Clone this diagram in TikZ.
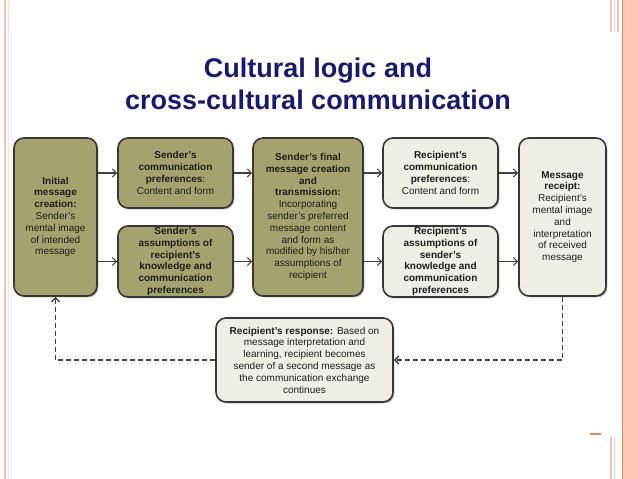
\documentclass[tikz,border=0pt]{standalone}
\usepackage{fontspec}
\setmainfont{Liberation Sans}
\usetikzlibrary{arrows.meta,shadows}
\definecolor{boxolive}{RGB}{164,163,110}
\definecolor{boxlight}{RGB}{238,238,229}
\definecolor{boxline}{RGB}{55,55,55}
\definecolor{arrline}{RGB}{65,65,65}
\definecolor{txtcol}{RGB}{30,30,30}
\definecolor{titlecol}{RGB}{24,26,110}
\definecolor{pinkline}{RGB}{244,196,182}
\definecolor{salmon}{RGB}{252,200,180}
\definecolor{orangeline}{RGB}{232,140,80}
\tikzset{
  box/.style={draw=boxline, line width=1.6pt, rounded corners=10pt, align=center,
    text=txtcol, font=\fontsize{10}{11.8}\selectfont, inner xsep=2pt, inner ysep=0pt,
    drop shadow={shadow xshift=1.4pt, shadow yshift=-1.4pt, fill=black, opacity=0.3}},
  olivebox/.style={box, fill=boxolive},
  lightbox/.style={box, fill=boxlight},
  arr/.style={draw=arrline, line width=1.2pt, -{Straight Barb[length=4pt,width=8pt]}},
  dasharr/.style={arr, line width=1.5pt, dash pattern=on 5pt off 3pt},
  titletext/.style={font=\fontsize{27}{30}\selectfont\bfseries, text=titlecol, anchor=base, inner sep=0pt}
}
\begin{document}
\begin{tikzpicture}[x=1pt,y=-1pt]
\useasboundingbox (0,0) rectangle (638,479);
\fill[white] (0,0) rectangle (638,479);
% slide decoration
\draw[pinkline, line width=2.4pt] (5,0) -- (5,479);
\draw[pinkline!50, line width=0.8pt] (8.5,0) -- (8.5,479);
\draw[pinkline!30, line width=0.8pt] (11.5,32) -- (11.5,479);
\fill[salmon] (622,0) rectangle (638,479);
\draw[orangeline, line width=1pt] (622.5,0) -- (622.5,479);
\draw[pinkline, line width=1.2pt] (611,0) -- (611,32);
\draw[pinkline!70, line width=1pt] (614,0) -- (614,32);
\draw[pinkline, line width=1.5pt] (618,0) -- (618,32);
\draw[pinkline, line width=1.2pt] (611,437) -- (611,479);
\draw[pinkline!70, line width=1pt] (614,437) -- (614,479);
\draw[orangeline, line width=1.5pt] (590,434) -- (601,434);
% title
\node[titletext] (t1) at (318,77) {Cultural logic and};
\node[titletext] (t2) at (318,109) {cross-cultural communication};
% boxes
\node[olivebox, minimum width=83pt, minimum height=158pt] (b1) at (55.5,217)
  {\textbf{Initial}\\\textbf{message}\\\textbf{creation:}\\Sender’s\\mental image\\of intended\\message};
\node[olivebox, minimum width=115pt, minimum height=70pt] (b2) at (175.5,173)
  {\textbf{Sender’s}\\\textbf{communication}\\\textbf{preferences}:\\Content and form};
\node[olivebox, minimum width=115pt, minimum height=71pt] (b3) at (175.5,261.5)
  {\textbf{Sender’s}\\\textbf{assumptions of}\\\textbf{recipient’s}\\\textbf{knowledge and}\\\textbf{communication}\\\textbf{preferences}};
\node[olivebox, minimum width=110pt, minimum height=158pt] (b4) at (308,217)
  {\textbf{Sender’s final}\\\textbf{message creation}\\\textbf{and}\\\textbf{transmission:}\\Incorporating\\sender’s preferred\\message content\\and form as\\modified by his/her\\assumptions of\\recipient};
\node[lightbox, minimum width=115pt, minimum height=70pt] (b5) at (440.5,173)
  {\textbf{Recipient’s}\\\textbf{communication}\\\textbf{preferences}:\\Content and form};
\node[lightbox, minimum width=115pt, minimum height=71pt] (b6) at (440.5,261.5)
  {\textbf{Recipient’s}\\\textbf{assumptions of}\\\textbf{sender’s}\\\textbf{knowledge and}\\\textbf{communication}\\\textbf{preferences}};
\node[lightbox, minimum width=87pt, minimum height=158pt] (b7) at (562.5,217)
  {\textbf{Message}\\\textbf{receipt:}\\Recipient’s\\mental image\\and\\interpretation\\of received\\message};
\node[lightbox, minimum width=177pt, minimum height=84pt] (b8) at (304.5,360)
  {\textbf{Recipient’s response:} Based on\\message interpretation and\\learning, recipient becomes\\sender of a second message as\\the communication exchange\\continues};
% arrows
\draw[arr] (b1.east |- b2.west) -- (b2.west);
\draw[arr] (b1.east |- b3.west) -- (b3.west);
\draw[arr] (b2.east) -- (b2.east -| b4.west);
\draw[arr] (b3.east) -- (b3.east -| b4.west);
\draw[arr] (b4.east |- b5.west) -- (b5.west);
\draw[arr] (b4.east |- b6.west) -- (b6.west);
\draw[arr] (b5.east) -- (b5.east -| b7.west);
\draw[arr] (b6.east) -- (b6.east -| b7.west);
% feedback loop
\draw[dasharr] (b7.south) -- (b7.south |- b8.east) -- (b8.east);
\draw[dasharr] (b8.west) -- (b8.west -| b1.south) -- (b1.south);
\end{tikzpicture}
\end{document}
